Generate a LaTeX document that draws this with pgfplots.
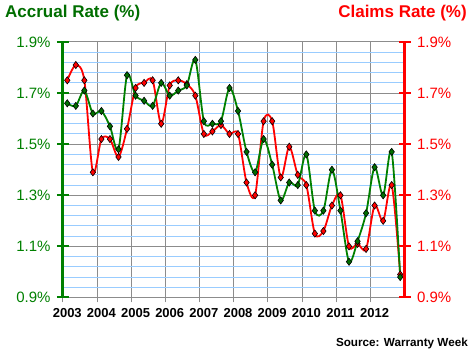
\documentclass[border=0pt]{standalone}
\usepackage{fontspec}
\setmainfont{Liberation Sans}
\usepackage{pgfplots}
\pgfplotsset{compat=1.18}
\definecolor{grn}{RGB}{0,128,0}
\definecolor{grntxt}{RGB}{0,110,0}
\definecolor{mkgrn}{RGB}{0,110,0}
\definecolor{gridblue}{RGB}{153,204,255}
\definecolor{gridgray}{RGB}{140,140,140}
\begin{document}
\begin{tikzpicture}
\path[use as bounding box] (0,0) rectangle (475pt,351pt);
\pgfplotsset{base/.style={at={(63pt,53.5pt)}, anchor=south west, scale only axis,
  width=341.5pt, height=255.5pt, xmin=0, xmax=40, ymin=0.9, ymax=1.9}}
\begin{axis}[base,
  xtick={0,4,8,12,16,20,24,28,32,36},
  xticklabels={2003,2004,2005,2006,2007,2008,2009,2010,2011,2012},
  xticklabel style={font=\fontsize{13}{15}\selectfont\bfseries, xshift=4.27pt, yshift=-2.5pt},
  ytick={0.9,1.1,1.3,1.5,1.7,1.9}, yticklabels={},
  minor y tick num=4,
  ymajorgrids, yminorgrids, xmajorgrids,
  major grid style={gridgray, line width=1pt},
  minor grid style={gridblue, line width=1pt},
  tick align=outside, major tick length=5pt, minor tick length=0pt,
  xtick style={gridgray, line width=1pt},
  ytick style={draw=none},
  minor tick style={draw=none},
  xtick pos=left, ytick pos=left,
  axis line style={gridgray, line width=1pt},
]
\addplot[red, line width=1.8pt, smooth, mark=diamond*, mark size=3.6pt,
  mark options={fill=red, draw=black, line width=0.6pt}] coordinates {
(0.5,1.75)(1.5,1.81)(2.5,1.75)(3.5,1.39)(4.5,1.52)(5.5,1.52)(6.5,1.45)(7.5,1.56)
(8.5,1.72)(9.5,1.74)(10.5,1.75)(11.5,1.58)(12.5,1.73)(13.5,1.75)(14.5,1.735)(15.5,1.69)
(16.5,1.54)(17.5,1.55)(18.5,1.575)(19.5,1.54)(20.5,1.54)(21.5,1.35)(22.5,1.30)(23.5,1.59)
(24.5,1.59)(25.5,1.37)(26.5,1.49)(27.5,1.38)(28.5,1.34)(29.5,1.15)(30.5,1.16)(31.5,1.26)
(32.5,1.30)(33.5,1.10)(34.5,1.11)(35.5,1.09)(36.5,1.26)(37.5,1.20)(38.5,1.34)(39.5,0.99)
};
\addplot[grn, line width=1.8pt, smooth, mark=diamond*, mark size=3.6pt,
  mark options={fill=mkgrn, draw=black, line width=0.6pt}] coordinates {
(0.5,1.66)(1.5,1.65)(2.5,1.71)(3.5,1.62)(4.5,1.63)(5.5,1.57)(6.5,1.48)(7.5,1.77)
(8.5,1.69)(9.5,1.67)(10.5,1.65)(11.5,1.74)(12.5,1.69)(13.5,1.71)(14.5,1.73)(15.5,1.83)
(16.5,1.59)(17.5,1.58)(18.5,1.59)(19.5,1.72)(20.5,1.63)(21.5,1.47)(22.5,1.39)(23.5,1.52)
(24.5,1.42)(25.5,1.28)(26.5,1.35)(27.5,1.34)(28.5,1.46)(29.5,1.24)(30.5,1.24)(31.5,1.40)
(32.5,1.24)(33.5,1.04)(34.5,1.12)(35.5,1.23)(36.5,1.41)(37.5,1.30)(38.5,1.47)(39.5,0.98)
};
\end{axis}
\begin{axis}[base, axis x line=none, axis y line*=left,
  ytick={0.9,1.1,1.3,1.5,1.7,1.9},
  yticklabels={0.9\%,1.1\%,1.3\%,1.5\%,1.7\%,1.9\%},
  yticklabel style={font=\fontsize{15}{18}\selectfont, text=grn, xshift=-3pt},
  tick align=center, major tick length=12pt,
  ytick style={grn, line width=2pt},
  axis line style={grn, line width=3pt, -},
  minor tick num=0]
\end{axis}
\begin{axis}[base, axis x line=none, axis y line*=right,
  ytick={0.9,1.1,1.3,1.5,1.7,1.9},
  yticklabels={0.9\%,1.1\%,1.3\%,1.5\%,1.7\%,1.9\%},
  yticklabel style={font=\fontsize{15}{18}\selectfont, text=red, xshift=3pt},
  yticklabel pos=right, ytick pos=right,
  tick align=center, major tick length=12pt,
  ytick style={red, line width=2pt},
  axis line style={red, line width=3pt, -},
  minor tick num=0]
\end{axis}
\node[anchor=base west, inner sep=0pt, text=grntxt, font=\fontsize{17}{20}\selectfont\bfseries] at (5pt,333pt) {Accrual Rate (\%)};
\node[anchor=base east, inner sep=0pt, text=red, font=\fontsize{17}{20}\selectfont\bfseries] at (467pt,333pt) {Claims Rate (\%)};
\node[anchor=base east, inner sep=0pt, font=\fontsize{11.7}{14}\selectfont\bfseries] at (468pt,4.5pt) {Source: Warranty Week};
\end{tikzpicture}
\end{document}
